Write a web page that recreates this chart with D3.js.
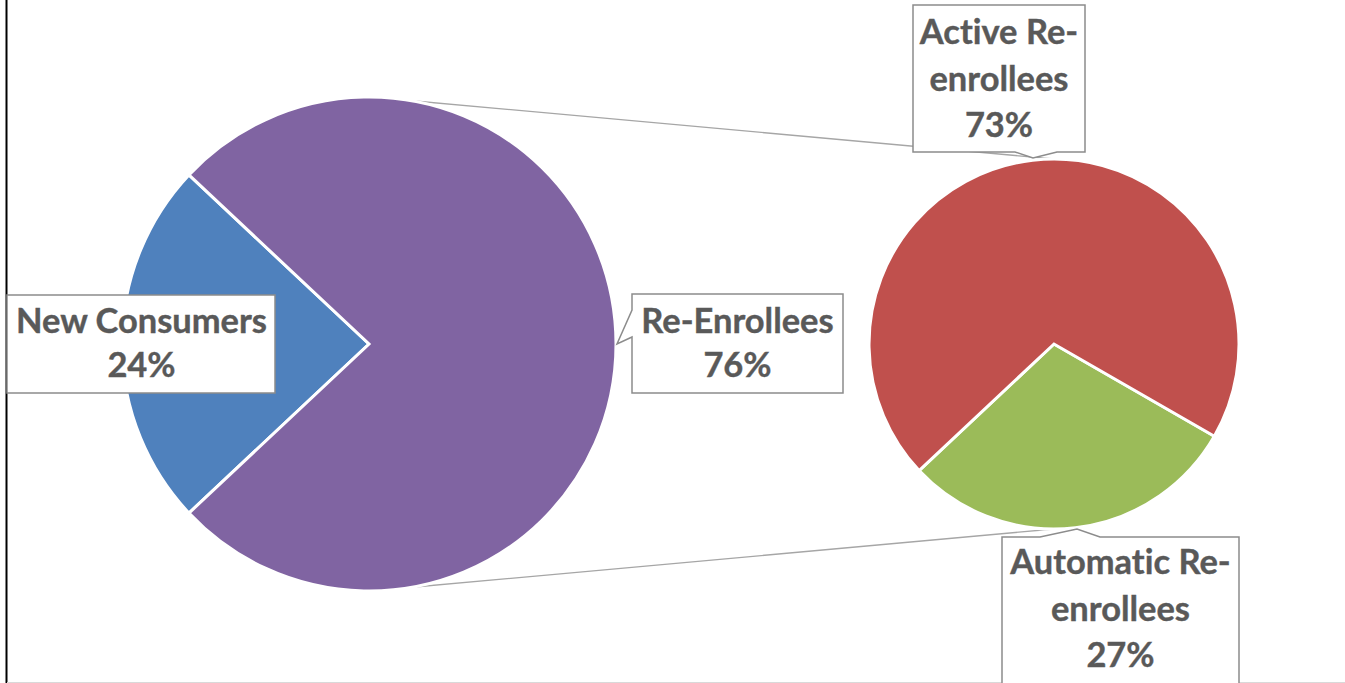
<!DOCTYPE html>
<html>
<head>
<meta charset="utf-8">
<script src="https://cdn.jsdelivr.net/npm/d3@7"></script>
<style>
  html, body { margin: 0; padding: 0; background: #fff; }
  svg { display: block; }
  text { font-variant-ligatures: none; font-feature-settings: "liga" 0; }
</style>
</head>
<body>
<svg id="chart" width="1345" height="683"></svg>
<script>
// ---- data ----
const mainCategories = ["New Consumers", "Re-Enrollees"];
const mainValues = [24, 76];
const subCategories = ["Automatic Re-enrollees", "Active Re-enrollees"];
const subValues = [29.7, 70.3];          // shares as drawn in the second pie
const subLabelPercents = [27, 73];        // percentages printed on the labels
const mainColors = ["#4F81BD", "#8064A2"];
const subColors = ["#9BBB59", "#C0504D"];

// ---- layout ----
const W = 1345, H = 683;
const mainPie = { cx: 369, cy: 344, r: 247, start: 226.8 };
const subPie = { cx: 1054, cy: 344, r: 185, start: 119.9 };
const rad = d => d * Math.PI / 180;

const svg = d3.select("#chart");

// frame lines
svg.append("line").attr("x1", 6.5).attr("x2", 6.5).attr("y1", 0).attr("y2", H)
  .attr("stroke", "#000").attr("stroke-width", 2);
svg.append("line").attr("x1", 7).attr("x2", W).attr("y1", 682.5).attr("y2", 682.5)
  .attr("stroke", "#d9d9d9").attr("stroke-width", 1);

// connector lines (behind pies)
function pt(p, deg, r) {
  return [p.cx + (r ?? p.r) * Math.sin(rad(deg)), p.cy - (r ?? p.r) * Math.cos(rad(deg))];
}
const conn = [[pt(mainPie, 10), pt(subPie, 0)], [pt(mainPie, 170), pt(subPie, 180)]];
svg.selectAll("line.conn").data(conn).join("line").attr("class", "conn")
  .attr("x1", d => d[0][0]).attr("y1", d => d[0][1])
  .attr("x2", d => d[1][0]).attr("y2", d => d[1][1])
  .attr("stroke", "#a6a6a6").attr("stroke-width", 1.3);

function drawPie(p, values, colors) {
  const pie = d3.pie().sort(null).value(d => d)
    .startAngle(rad(p.start)).endAngle(rad(p.start) + 2 * Math.PI);
  const arc = d3.arc().innerRadius(0).outerRadius(p.r);
  svg.append("g").attr("transform", `translate(${p.cx},${p.cy})`)
    .selectAll("path").data(pie(values)).join("path")
    .attr("d", arc)
    .attr("fill", (d, i) => colors[i])
    .attr("stroke", "#fff").attr("stroke-width", 3).attr("stroke-linejoin", "miter");
}
drawPie(mainPie, mainValues, mainColors);
drawPie(subPie, subValues, subColors);

// ---- labels ----
const labels = [
  { lines: ["New Consumers", Math.round(mainValues[0]) + "%"], box: [7, 295, 275, 393], ptr: null, cx: 141.5, base: [333, 377] },
  { lines: ["Re-Enrollees", Math.round(mainValues[1]) + "%"], box: [632, 294, 843, 393], ptr: { side: "left", a: 310, b: 337, tip: [617, 344] }, cx: 737.5, base: [333, 377] },
  { lines: ["Active Re-", "enrollees", subLabelPercents[1] + "%"], box: [913, 5, 1085, 152], ptr: { side: "bottom", a: 1015, b: 1057, tip: [1033, 158] }, cx: 999, base: [44, 91, 137] },
  { lines: ["Automatic Re-", "enrollees", subLabelPercents[0] + "%"], box: [1002, 537, 1239, 700], ptr: { side: "top", a: 1040, b: 1100, tip: [1077, 529] }, cx: 1120.5, base: [574, 621, 667] }
];

function calloutPath(L) {
  const [x0, y0, x1, y1] = L.box, p = L.ptr;
  if (!p) return `M${x0},${y0}H${x1}V${y1}H${x0}Z`;
  if (p.side === "left")
    return `M${x0},${y0}H${x1}V${y1}H${x0}V${p.b}L${p.tip[0]},${p.tip[1]}L${x0},${p.a}Z`;
  if (p.side === "bottom")
    return `M${x0},${y0}H${x1}V${y1}H${p.b}L${p.tip[0]},${p.tip[1]}L${p.a},${y1}H${x0}Z`;
  if (p.side === "top")
    return `M${x0},${y0}H${p.a}L${p.tip[0]},${p.tip[1]}L${p.b},${y0}H${x1}V${y1}H${x0}Z`;
}

const font = "Lato, 'Open Sans', sans-serif";
// fit font size so "New Consumers" spans ~251px
const probe = svg.append("text").attr("font-family", font).attr("font-weight", 700)
  .attr("font-size", 100).text("New Consumers");
const fs = 100 * 251 / probe.node().getComputedTextLength();
probe.remove();

const lg = svg.selectAll("g.lab").data(labels).join("g").attr("class", "lab");
lg.append("path").attr("d", calloutPath)
  .attr("fill", "#fff").attr("stroke", "#8c8c8c").attr("stroke-width", 1.5);
lg.each(function (L) {
  const g = d3.select(this);
  L.lines.forEach((t, i) => {
    g.append("text").attr("x", L.cx).attr("y", L.base[i])
      .attr("text-anchor", "middle").attr("font-family", font).attr("font-weight", 700)
      .attr("font-size", fs).attr("fill", "#595959")
      .attr("stroke", "#595959").attr("stroke-width", 0.4)
      .text(t);
  });
});
</script>
</body>
</html>
